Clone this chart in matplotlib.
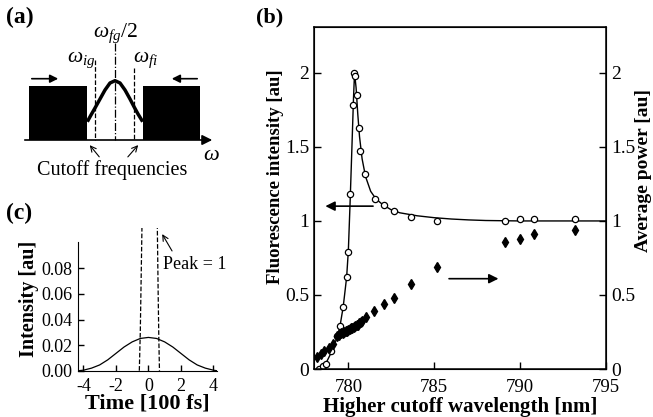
import numpy as np
import matplotlib
matplotlib.use("Agg")
import matplotlib.pyplot as plt

plt.rcParams['font.family'] = ['Liberation Serif', 'DejaVu Serif']
plt.rcParams['mathtext.fontset'] = 'custom'
plt.rcParams['mathtext.rm'] = 'Liberation Serif'
plt.rcParams['mathtext.it'] = 'Liberation Serif:italic'

# ---- panel (b) data ----
circ_wl = [778.3, 778.5, 778.7, 779.0, 779.35, 779.52, 779.7, 779.9, 780.0, 780.1,
           780.25, 780.35, 780.38, 780.48, 780.6, 780.7, 780.97, 781.55, 782.05,
           782.65, 783.65, 785.15, 789.1, 790.0, 790.8, 793.2]
circ_int = [0.0, 0.02, 0.035, 0.12, 0.22, 0.29, 0.42, 0.62, 0.79, 1.18,
            1.78, 2.0, 1.98, 1.85, 1.63, 1.47, 1.32, 1.15, 1.11,
            1.065, 1.025, 1.0, 1.0, 1.01, 1.01, 1.01]

fit_wl = [778.3, 778.7, 779.0, 779.3, 779.5, 779.7, 779.9, 780.0, 780.1, 780.2, 780.3,
          780.36, 780.45, 780.55, 780.65, 780.8, 781.0, 781.3, 781.6, 782.0, 782.5,
          783.0, 784.0, 785.0, 786.0, 787.0, 788.0, 790.0, 792.0, 795.0]
fit_int = [0.0, 0.04, 0.11, 0.2, 0.28, 0.42, 0.62, 0.8, 1.12, 1.47, 1.83,
           2.0, 1.9, 1.72, 1.57, 1.42, 1.3, 1.2, 1.15, 1.11, 1.075,
           1.055, 1.035, 1.022, 1.013, 1.007, 1.003, 1.0, 1.0, 1.0]

dia_wl = [778.2, 778.4, 778.6, 778.85, 779.1, 779.35, 779.47, 779.6, 779.68, 779.76,
          779.84, 779.92, 780.0, 780.08, 780.16, 780.24, 780.32, 780.4, 780.48, 780.56,
          780.64, 780.72, 780.8, 781.0, 781.5, 782.05, 782.65, 783.65, 785.15, 789.1,
          790.0, 790.8, 793.2]
dia_pow = [0.08, 0.10, 0.12, 0.145, 0.17, 0.22, 0.23, 0.24, 0.245, 0.25,
           0.255, 0.26, 0.265, 0.27, 0.275, 0.28, 0.285, 0.29, 0.295, 0.30,
           0.31, 0.315, 0.325, 0.35, 0.39, 0.44, 0.48, 0.575, 0.69, 0.855,
           0.88, 0.91, 0.94]

b_xticks = [780, 785, 790, 795]
b_yticks = [0, 0.5, 1, 1.5, 2]
b_yticklabels = ["0", "0.5", "1", "1.5", "2"]

# ---- panel (c) data ----
t_long = [-4.3, -4.0, -3.5, -3.0, -2.5, -2.0, -1.5, -1.0, -0.5, 0.0,
          0.5, 1.0, 1.5, 2.0, 2.5, 3.0, 3.5, 4.0, 4.2]
i_long = [0.0, 0.0004, 0.002, 0.0045, 0.0085, 0.0135, 0.0185, 0.0225, 0.0252, 0.026,
          0.0252, 0.0225, 0.0185, 0.0135, 0.0085, 0.0045, 0.002, 0.0004, 0.0]
t_short = [-0.56, -0.5, -0.45, -0.4, -0.3, 0.08, 0.45, 0.55, 0.6, 0.64, 0.68]
i_short = [0.0, 0.03, 0.07, 0.11, 0.3, 1.0, 0.3, 0.11, 0.06, 0.025, 0.0]
c_xticks = [-4, -2, 0, 2, 4]
c_yticks = [0.0, 0.02, 0.04, 0.06, 0.08]

# ---- panel (a) schematic (pixel-like coords, y down) ----
blocks = [(29, 87), (143, 200)]
block_top, base_y = 86, 140
bell_x = [87.3, 91, 95, 100, 105, 110, 115, 120, 125, 130, 134, 138, 142.7]
bell_y = [121.7, 115, 108, 99, 90, 83, 80.7, 83, 90, 99, 106.7, 114, 121.7]
cut_lines = [(95, 60, '--'), (115, 43, '-.'), (134, 68, '--')]

fig = plt.figure(figsize=(6.53, 4.17), dpi=100)

# ======== (a) ========
axa = fig.add_axes([0, 1 - 200/417, 240/653, 200/417])
axa.set_xlim(0, 240)
axa.set_ylim(200, 0)
axa.axis('off')
for x0, x1 in blocks:
    axa.fill([x0, x1, x1, x0], [base_y, base_y, block_top, block_top], color='black', lw=0)
axa.plot(bell_x, bell_y, color='black', lw=2.5, solid_capstyle='butt')
for x, ytop, ls in cut_lines:
    axa.plot([x, x], [ytop, base_y], color='black', lw=0.9, ls=ls)
axa.annotate('', xy=(215, base_y), xytext=(22, base_y),
             arrowprops=dict(arrowstyle='-|>', color='black', lw=1.2, mutation_scale=15))
axa.annotate('', xy=(61, 78.7), xytext=(29, 78.7),
             arrowprops=dict(arrowstyle='-|>', color='black', lw=1.2, mutation_scale=12))
axa.annotate('', xy=(169, 78.7), xytext=(200, 78.7),
             arrowprops=dict(arrowstyle='-|>', color='black', lw=1.2, mutation_scale=12))
axa.annotate('', xy=(88, 143), xytext=(101, 159),
             arrowprops=dict(arrowstyle='->', color='black', lw=0.8, mutation_scale=10))
axa.annotate('', xy=(140, 143), xytext=(126, 159),
             arrowprops=dict(arrowstyle='->', color='black', lw=0.8, mutation_scale=10))
axa.text(115, 33, r'$\omega_{fg}/2$', fontsize=15.5, ha='center', va='center')
axa.text(81, 60, r'$\omega_{ig}$', fontsize=15.5, ha='center', va='center')
axa.text(146, 60, r'$\omega_{fi}$', fontsize=15.5, ha='center', va='center')
axa.text(211, 155, r'$\omega$', fontsize=16, ha='center', va='center')
axa.text(112, 170, 'Cutoff frequencies', fontsize=14.5, ha='center', va='center')

# ======== (b) ========
axb = fig.add_axes([314/653, 1 - 369/417, (606 - 314)/653, (369 - 27)/417])
axb.plot(fit_wl, fit_int, color='black', lw=1.0)
axb.plot(circ_wl, circ_int, ls='none', marker='o', ms=4.5, mfc='white', mec='black', mew=0.9)
axb.plot(dia_wl, dia_pow, ls='none', marker='d', ms=5, mfc='black', mec='black')
axb.set_xlim(778, 795)
axb.set_ylim(0, 2.31)
axb.set_xticks(b_xticks)
axb.set_yticks(b_yticks)
axb.set_yticklabels(b_yticklabels)
axb.tick_params(direction='in', length=5, width=1, labelsize=14, right=True)
axb.tick_params(axis='x', pad=7, labelsize=13.5)
axb.tick_params(axis='y', which='both', labelright=False)
for s in axb.spines.values():
    s.set_linewidth(1.1)
axr = axb.twinx()
axr.set_ylim(0, 2.31)
axr.set_yticks(b_yticks)
axr.set_yticklabels(b_yticklabels)
axr.tick_params(direction='in', length=5, width=1, labelsize=14)
axb.annotate('', xy=(778.5, 1.10), xytext=(781.6, 1.10),
             arrowprops=dict(arrowstyle='-|>', color='black', lw=1.2, mutation_scale=14))
axb.annotate('', xy=(788.9, 0.61), xytext=(785.7, 0.61),
             arrowprops=dict(arrowstyle='-|>', color='black', lw=1.2, mutation_scale=14))
axb.set_xlabel('Higher cutoff wavelength [nm]', fontsize=15, fontweight='bold', labelpad=1)
fig.text(275/653, 1 - 177/417, 'Fluorescence intensity [au]', rotation=90, fontsize=13.5,
         fontweight='bold', ha='center', va='center')
fig.text(644/653, 1 - 171/417, 'Average power [au]', rotation=90, fontsize=14,
         fontweight='bold', ha='center', va='center')

# ======== (c) ========
axc = fig.add_axes([77.7/653, 1 - 370.7/417, (216.7 - 77.7)/653, (370.7 - 228)/417])
axc.plot(t_long, i_long, color='black', lw=0.9)
axc.plot(t_short, i_short, color='black', lw=0.9, ls='--')
axc.set_xlim(-4.35, 4.2)
axc.set_ylim(0, 0.1115)
axc.spines['left'].set_bounds(0, 0.1008)
axc.spines['top'].set_visible(False)
axc.spines['right'].set_visible(False)
axc.set_xticks(c_xticks)
axc.set_xticklabels([str(v) for v in c_xticks])
axc.set_yticks(c_yticks)
axc.set_yticklabels(['%.2f' % v for v in c_yticks])
axc.tick_params(direction='in', length=4, width=1, labelsize=13)
axc.tick_params(axis='x', pad=5)
axc.annotate('', xy=(0.76, 0.1086), xytext=(1.54, 0.0917),
             arrowprops=dict(arrowstyle='->', color='black', lw=0.8, mutation_scale=10))
axc.text(0.9, 0.0826, 'Peak = 1', fontsize=13, ha='left', va='center')
axc.set_xlabel('Time [100 fs]', fontsize=16, fontweight='bold', labelpad=-1)
axc.set_ylabel('Intensity [au]', fontsize=14.5, fontweight='bold', labelpad=2)

# panel labels
fig.text(6/653, 1 - 17/417, '(a)', fontsize=17, fontweight='bold', va='center')
fig.text(256/653, 1 - 17/417, '(b)', fontsize=16, fontweight='bold', va='center')
fig.text(6/653, 1 - 213/417, '(c)', fontsize=17, fontweight='bold', va='center')

fig.savefig('out.png', dpi=100)
